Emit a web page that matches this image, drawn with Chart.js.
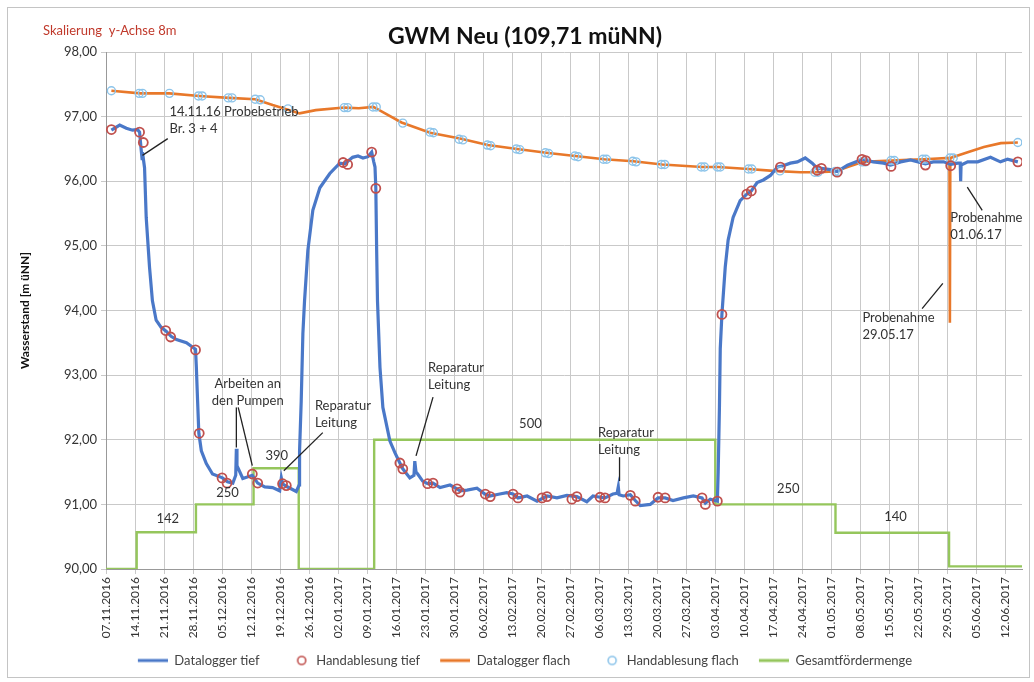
<!DOCTYPE html>
<html>
<head>
<meta charset="utf-8">
<script src="https://cdn.jsdelivr.net/npm/chart.js@4.4.1/dist/chart.umd.min.js"></script>
<style>
  html, body { margin: 0; padding: 0; background: #fff; }
  #wrap { width: 1034px; height: 682px; }
</style>
</head>
<body>
<div id="wrap"><canvas id="chart" width="1034" height="682"></canvas></div>
<script>
// x values are days after 07.11.2016
const startDatum = Date.UTC(2016, 10, 7);

// Datalogger tief (blue line)
const tiefTag = [1.3, 3.3, 4.9, 6.4, 7.6, 8.1, 8.5, 8.7, 8.8, 9.3, 9.7, 10.5, 11.2, 12.1, 13.3, 14.5, 15.7, 17.0, 19.4, 21.6,
  21.8, 22.1, 22.4, 23.0, 24.2, 25.7, 28.1, 29.3, 30.6, 31.3, 31.45, 31.6, 33.0, 35.3, 36.6, 38.3, 40.2, 41.9, 42.3, 42.6,
  43.5, 45.9, 46.6, 46.7, 47.1, 47.5, 47.9, 48.7, 49.9, 51.6, 54.0, 56.4, 57.6, 59.5, 60.8, 62.0, 63.2, 64.1, 64.6, 64.9,
  65.1, 65.3, 65.5, 66.1, 66.8, 68.5, 69.7, 70.9, 71.6, 73.3, 74.3, 74.5, 74.8, 75.2, 76.4, 77.6, 78.9, 80.6, 83.0, 84.7,
  85.4, 87.1, 89.5, 91.4, 92.6, 95.0, 96.7, 98.2, 99.4, 101.6, 104.0, 106.4, 108.8, 111.2, 113.6, 116.0, 117.5, 119.2, 120.4, 122.3,
  123.3, 123.6, 123.8, 124.8, 126.5, 127.7, 128.9, 131.3, 133.2, 134.9, 136.8, 139.3, 141.7, 143.8, 144.6, 145.8, 147.5, 147.7, 148.0, 148.2,
  148.6, 149.4, 150.1, 151.3, 153.0, 154.6, 155.7, 157.1, 158.6, 160.3, 162.0, 163.4, 165.1, 166.8, 168.7, 170.4, 171.6, 172.6, 174.7, 176.4,
  178.9, 181.3, 182.5, 185.1, 187.6, 189.3, 191.7, 194.1, 197.7, 199.6, 202.1, 203.8, 205.5, 206.1, 206.2, 206.3, 207.9, 210.3, 213.4, 215.8,
  217.5, 220.0];
const tiefWert = [96.79, 96.87, 96.82, 96.79, 96.80, 96.76, 96.48, 96.35, 96.45, 96.21, 95.44, 94.67, 94.15, 93.85, 93.74, 93.68, 93.60, 93.55, 93.50, 93.40,
  93.12, 92.60, 92.10, 91.83, 91.63, 91.47, 91.41, 91.35, 91.33, 91.45, 91.86, 91.60, 91.40, 91.45, 91.33, 91.27, 91.26, 91.21, 91.41, 91.32,
  91.28, 91.20, 91.30, 91.83, 92.60, 93.64, 94.15, 94.93, 95.55, 95.90, 96.12, 96.28, 96.27, 96.37, 96.39, 96.36, 96.38, 96.45, 96.30, 96.22,
  95.89, 94.93, 94.15, 93.12, 92.50, 91.98, 91.80, 91.64, 91.55, 91.41, 91.45, 91.67, 91.50, 91.47, 91.36, 91.32, 91.33, 91.26, 91.30, 91.24,
  91.21, 91.22, 91.25, 91.16, 91.13, 91.16, 91.18, 91.16, 91.10, 91.13, 91.05, 91.13, 91.10, 91.14, 91.12, 91.04, 91.13, 91.11, 91.10, 91.16,
  91.17, 91.27, 91.15, 91.13, 91.15, 91.06, 90.98, 91.00, 91.10, 91.10, 91.06, 91.10, 91.13, 91.10, 91.02, 91.08, 91.05, 91.50, 92.50, 93.41,
  93.94, 94.67, 95.09, 95.44, 95.70, 95.80, 95.85, 95.98, 96.02, 96.09, 96.22, 96.24, 96.28, 96.30, 96.36, 96.28, 96.20, 96.20, 96.18, 96.15,
  96.25, 96.31, 96.34, 96.30, 96.28, 96.25, 96.30, 96.33, 96.27, 96.30, 96.30, 96.26, 96.28, 96.28, 96.00, 96.25, 96.30, 96.30, 96.37, 96.30,
  96.34, 96.30];

// Handablesung tief (red rings)
const handTiefTag = [1.3, 8.1, 9.0, 14.4, 15.6, 21.6, 22.5, 28.0, 29.2, 35.3, 36.6, 42.6, 43.5, 57.2, 58.3, 64.1, 65.1,
  70.9, 71.6, 77.6, 78.9, 84.7, 85.4, 91.5, 92.7, 98.2, 99.4, 105.2, 106.4, 112.4, 113.6, 119.2, 120.4, 126.5, 127.7,
  133.2, 134.9, 143.8, 144.6, 147.5, 148.6, 154.6, 155.7, 162.7, 171.6, 172.6, 176.4, 182.4, 183.3, 189.4, 197.7, 203.8, 220.0];
const handTiefWert = [96.80, 96.76, 96.60, 93.69, 93.59, 93.39, 92.10, 91.41, 91.33, 91.47, 91.33, 91.32, 91.29, 96.29, 96.26, 96.45, 95.89,
  91.64, 91.55, 91.32, 91.33, 91.24, 91.19, 91.16, 91.12, 91.16, 91.10, 91.10, 91.12, 91.08, 91.12, 91.11, 91.10, 91.14, 91.05,
  91.11, 91.10, 91.10, 91.00, 91.05, 93.94, 95.80, 95.85, 96.22, 96.17, 96.20, 96.14, 96.34, 96.32, 96.23, 96.25, 96.24, 96.30];

// Datalogger flach (orange line)
const flachTag = [1.3, 8.3, 15.3, 22.5, 29.7, 36.0, 40.2, 44.3, 46.7, 50.6, 57.5, 61.0, 64.5, 66.8, 71.3, 78.2, 85.4, 92.1,
  99.2, 106.2, 113.2, 120.2, 127.2, 134.2, 143.8, 147.7, 155.0, 161.0, 167.5, 171.3, 176.0, 178.9, 182.7, 189.5, 193.5, 197.3,
  203.5, 203.6, 203.7, 207.9, 211.8, 215.9, 220.0];
const flachWert = [97.40, 97.36, 97.36, 97.32, 97.29, 97.27, 97.18, 97.10, 97.05, 97.10, 97.14, 97.13, 97.15, 97.07, 96.91, 96.75, 96.66, 96.56,
  96.50, 96.44, 96.39, 96.34, 96.31, 96.26, 96.22, 96.22, 96.19, 96.16, 96.14, 96.14, 96.15, 96.22, 96.30, 96.32, 96.33, 96.34,
  96.36, 93.81, 96.36, 96.45, 96.53, 96.59, 96.60];

// Handablesung flach (light blue rings)
const handFlachTag = [1.3, 8.0, 8.8, 15.3, 22.3, 23.2, 29.5, 30.4, 36.0, 37.2, 43.9, 57.5, 58.3, 64.4, 65.2, 71.6, 78.2, 79.0,
  85.2, 86.1, 92.0, 92.8, 99.0, 99.8, 106.0, 106.8, 113.1, 113.9, 120.0, 120.8, 127.1, 127.9, 134.0, 134.8, 143.6, 144.4,
  147.5, 148.2, 155.0, 155.8, 162.6, 171.0, 171.8, 175.9, 176.7, 182.4, 183.2, 189.4, 190.2, 197.0, 197.8, 203.6, 204.4, 220.0];
const handFlachWert = [97.40, 97.36, 97.36, 97.36, 97.32, 97.32, 97.29, 97.29, 97.27, 97.26, 97.12, 97.14, 97.14, 97.15, 97.15, 96.90, 96.76, 96.75,
  96.65, 96.64, 96.56, 96.55, 96.50, 96.49, 96.44, 96.43, 96.39, 96.38, 96.34, 96.34, 96.31, 96.30, 96.26, 96.26, 96.22, 96.22,
  96.22, 96.22, 96.19, 96.19, 96.16, 96.14, 96.14, 96.15, 96.15, 96.30, 96.30, 96.32, 96.32, 96.34, 96.34, 96.36, 96.36, 96.60];

// Gesamtfördermenge (green steps, hidden second axis)
const foerderTag = [0, 7.4, 21.7, 35.6, 46.5, 64.7, 147.0, 176.0, 203.4, 221];
const foerderMenge = [0, 142, 250, 390, 0, 500, 250, 140, 10, 10];

const pts = (xs, ys) => xs.map((x, i) => ({ x: x, y: ys[i] }));

function datum(v) {
  const d = new Date(startDatum + Math.round(v) * 86400000);
  const p = n => String(n).padStart(2, '0');
  return p(d.getUTCDate()) + '.' + p(d.getUTCMonth() + 1) + '.' + d.getUTCFullYear();
}

// legend icons (blank left part works as gap to the previous item)
function lineIcon(color) {
  const c = document.createElement('canvas');
  c.width = 40; c.height = 6;
  const g = c.getContext('2d');
  g.strokeStyle = color; g.lineWidth = 3;
  g.beginPath(); g.moveTo(10, 3); g.lineTo(40, 3); g.stroke();
  return c;
}
function ringIcon(color) {
  const c = document.createElement('canvas');
  c.width = 40; c.height = 12;
  const g = c.getContext('2d');
  g.strokeStyle = color; g.lineWidth = 1.6;
  g.beginPath(); g.arc(32, 6, 4, 0, Math.PI * 2); g.stroke();
  return c;
}

const blau = '#4a78c8', rot = '#c0504d', orange = '#e8782a', hellblau = '#8cc4ea', gruen = '#95c65c';
const textFont = 'Lato, "Open Sans", sans-serif';

// notes drawn in data coordinates
const notes = [
  { lines: ['14.11.16 Probebetrieb', 'Br. 3 + 4'], x: 15.3, y: 97.07, align: 'left' },
  { lines: ['Arbeiten an', 'den Pumpen'], x: 34.2, y: 92.87, align: 'center' },
  { lines: ['Reparatur', 'Leitung'], x: 50.4, y: 92.53, align: 'left' },
  { lines: ['Reparatur', 'Leitung'], x: 77.7, y: 93.12, align: 'left' },
  { lines: ['Reparatur', 'Leitung'], x: 118.7, y: 92.11, align: 'left' },
  { lines: ['Probenahme', '29.05.17'], x: 182.5, y: 93.88, align: 'left' },
  { lines: ['Probenahme', '01.06.17'], x: 203.7, y: 95.43, align: 'left' },
  { lines: ['142'], x: 14.9, y: 90.77, align: 'center' },
  { lines: ['250'], x: 29.3, y: 91.18, align: 'center' },
  { lines: ['390'], x: 41.2, y: 91.75, align: 'center' },
  { lines: ['500'], x: 102.4, y: 92.25, align: 'center' },
  { lines: ['250'], x: 164.6, y: 91.24, align: 'center' },
  { lines: ['140'], x: 190.5, y: 90.81, align: 'center' }
];
const leaders = [
  [14.9, 96.66, 8.8, 96.40],
  [31.45, 92.50, 31.45, 91.88],
  [31.9, 92.50, 35.3, 91.60],
  [52.3, 92.11, 42.9, 91.52],
  [78.9, 92.66, 74.8, 91.75],
  [123.9, 91.73, 123.9, 91.36],
  [196.9, 94.03, 201.9, 94.42],
  [211.4, 95.55, 207.8, 95.91]
];

const overlay = {
  id: 'overlay',
  beforeDraw(chart) {
    const ctx = chart.ctx;
    ctx.save();
    ctx.fillStyle = '#fff';
    ctx.fillRect(0, 0, chart.width, chart.height);
    ctx.strokeStyle = '#c4c4c4';
    ctx.lineWidth = 1;
    ctx.strokeRect(7.5, 7.5, 1022, 670);
    ctx.restore();
  },
  afterDatasetsDraw(chart) {
    const ctx = chart.ctx, xs = chart.scales.x, ys = chart.scales.y;
    ctx.save();
    ctx.strokeStyle = '#222';
    ctx.lineWidth = 1.3;
    leaders.forEach(l => {
      ctx.beginPath();
      ctx.moveTo(xs.getPixelForValue(l[0]), ys.getPixelForValue(l[1]));
      ctx.lineTo(xs.getPixelForValue(l[2]), ys.getPixelForValue(l[3]));
      ctx.stroke();
    });
    ctx.fillStyle = '#333';
    ctx.font = '13px ' + textFont;
    ctx.textBaseline = 'middle';
    notes.forEach(n => {
      ctx.textAlign = n.align;
      const px = xs.getPixelForValue(n.x), py = ys.getPixelForValue(n.y);
      n.lines.forEach((t, i) => ctx.fillText(t, px, py + i * 17));
    });
    ctx.restore();
  },
  afterDraw(chart) {
    const ctx = chart.ctx;
    ctx.save();
    ctx.textBaseline = 'middle';
    ctx.fillStyle = '#c0392b';
    ctx.font = '13px ' + textFont;
    ctx.textAlign = 'left';
    ctx.fillText('Skalierung  y-Achse 8m', 43, 31);
    ctx.fillStyle = '#111';
    ctx.font = 'bold 23px ' + textFont;
    ctx.textAlign = 'center';
    ctx.fillText('GWM Neu (109,71 müNN)', 525, 37);
    ctx.restore();
  }
};

const gitter = { color: '#c9c9c9', lineWidth: 1, tickLength: 5 };

new Chart(document.getElementById('chart'), {
  type: 'line',
  data: {
    datasets: [
      { label: 'Datalogger tief', data: pts(tiefTag, tiefWert), borderColor: blau, borderWidth: 3.2,
        pointRadius: 0, yAxisID: 'y', order: 3, legendIcon: lineIcon(blau) },
      { label: 'Handablesung tief', data: pts(handTiefTag, handTiefWert), showLine: false, borderColor: rot,
        backgroundColor: 'rgba(0,0,0,0)', pointRadius: 4.5, pointBorderWidth: 1.8, yAxisID: 'y', order: 1, legendIcon: ringIcon(rot) },
      { label: 'Datalogger flach', data: pts(flachTag, flachWert), borderColor: orange, borderWidth: 2.6,
        pointRadius: 0, yAxisID: 'y', order: 4, legendIcon: lineIcon(orange) },
      { label: 'Handablesung flach', data: pts(handFlachTag, handFlachWert), showLine: false, borderColor: hellblau,
        backgroundColor: 'rgba(0,0,0,0)', pointRadius: 4, pointBorderWidth: 1.4, yAxisID: 'y', order: 2, legendIcon: ringIcon(hellblau) },
      { label: 'Gesamtfördermenge', data: pts(foerderTag, foerderMenge), borderColor: gruen, borderWidth: 2.4,
        pointRadius: 0, stepped: 'before', yAxisID: 'y2', order: 5, legendIcon: lineIcon(gruen) }
    ]
  },
  options: {
    responsive: false,
    animation: false,
    layout: { padding: { left: 18, right: 12, top: 52, bottom: 5 } },
    scales: {
      x: {
        type: 'linear', min: 0, max: 221,
        grid: { ...gitter, borderDash: [2, 3] },
        border: { display: true, color: '#999' },
        ticks: {
          stepSize: 7, includeBounds: false, autoSkip: false, maxRotation: 90, minRotation: 90,
          color: '#333', font: { family: textFont, size: 12 }, padding: 3,
          callback: v => datum(v)
        },
        afterFit: s => { s.height = 75; }
      },
      y: {
        min: 90, max: 98,
        grid: { ...gitter, borderDash: [3, 3] },
        border: { display: true, color: '#999' },
        ticks: { stepSize: 1, color: '#333', padding: 4, font: { family: textFont, size: 13 },
          callback: v => v.toFixed(2).replace('.', ',') },
        title: { display: true, text: 'Wasserstand [m üNN]', color: '#111',
          font: { family: textFont, size: 12, weight: 'bold' }, padding: { top: 0, bottom: 6 } },
        afterFit: s => { s.width = 88; }
      },
      y2: { display: false, min: 0, max: 2000 }
    },
    plugins: {
      title: { display: false },
      tooltip: { enabled: false },
      legend: {
        position: 'bottom',
        labels: {
          usePointStyle: true, pointStyleWidth: 40, padding: 10, color: '#444',
          font: { family: textFont, size: 13 },
          generateLabels: chart => chart.data.datasets.map((ds, i) => ({
            text: ds.label, pointStyle: ds.legendIcon, fillStyle: ds.borderColor,
            strokeStyle: ds.borderColor, lineWidth: 0, datasetIndex: i, hidden: false, fontColor: '#444'
          }))
        }
      }
    }
  },
  plugins: [overlay]
});
</script>
</body>
</html>
